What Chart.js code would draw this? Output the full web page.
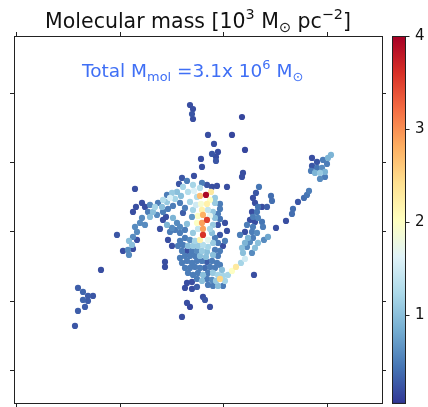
<!DOCTYPE html>
<html>
<head>
<meta charset="utf-8">
<script src="https://cdn.jsdelivr.net/npm/chart.js@4.4.1/dist/chart.umd.min.js"></script>
<style>
  body { margin: 0; background: #fff; }
  #map { display: block; }
</style>
</head>
<body>
<canvas id="map" width="428" height="407"></canvas>
<script>
// cells: [x offset, y offset, molecular mass in 10^3 Msun/pc^2]
const haloCells = [
    [-10, 120, 0.2], [-7, 116, 0.2], [-8, 111, 0.25], [-7, 106, 0.2], [42, 108, 0.15],
    [8, 90, 0.2], [32, 90, 0.15], [14, 81, 0.2], [45, 75, 0.15], [18, 73, 0.2],
    [12, 71, 0.25], [16, 68, 0.2], [16, 64, 0.25], [1, 66, 0.2], [2, 58, 0.2],
    [43, 52, 0.2], [42, 48, 0.2], [-6, 49, 0.2], [-18, 47, 0.25], [-65, 36, 0.2],
    [27, 38, 0.2], [-83, -10, 0.25], [-99, -45, 0.2], [-77, -26, 0.2], [-35, -37, 0.2],
    [-35, -42, 0.2], [54, -50, 0.2], [76, -3, 0.2], [-18, -92, 0.2], [-13, -78, 0.2],
    [-10, -82, 0.15], [10, -82, 0.2], [3, -72, 0.2], [5, -75, 0.25], [-15, -63, 0.2],
    [-8, -64, 0.2], [-3, -62, 0.3], [-40, -4, 0.2]
];
const westCluster = [
    [-122, -63, 0.3], [-117, -67, 0.35], [-112, -71, 0.3], [-107, -71, 0.25], [-117, -75, 0.35],
    [-112, -76, 0.3], [-115, -82, 0.3], [-122, -86, 0.3], [-125, -101, 0.25]
];
const eastClump = [
    [112, 67, 0.2], [117, 63, 0.25], [123, 65, 0.5], [128, 67, 0.9], [131, 70, 0.9],
    [112, 59, 0.25], [117, 57, 0.45], [122, 57, 0.6], [127, 61, 0.5], [111, 54, 0.5],
    [115, 52, 0.9], [120, 52, 1.1], [125, 53, 0.9], [120, 46, 0.6], [125, 48, 0.5]
];
const outerArm = [
    [86, 4, 0.2], [92, 11, 0.4], [93, 16, 0.4], [98, 23, 0.25], [104, 27, 0.4],
    [107, 30, 0.45], [109, 34, 0.5]
];
const innerArc = [
    [59, 38, 0.45], [56, 32, 0.25], [71, 29, 0.4], [72, 24, 0.4], [53, 27, 0.2],
    [55, 22, 0.2], [58, 18, 0.45], [62, 18, 0.2], [67, 18, 0.3], [52, 13, 0.2],
    [57, 13, 0.45], [53, 8, 0.5], [58, 7, 0.55], [62, 3, 0.45], [50, 5, 0.2],
    [47, 0, 0.5], [55, 3, 0.2], [53, -2, 0.5], [63, -2, 0.5], [52, -7, 0.5],
    [57, -8, 0.6], [48, -13, 0.9], [53, -13, 0.5], [45, -18, 0.9], [50, -17, 0.6],
    [58, -18, 1.0], [64, -15, 0.6], [68, -12, 0.8], [42, -23, 1.0], [47, -22, 0.6],
    [55, -23, 1.0], [43, -28, 1.0], [52, -28, 0.6], [40, -10, 0.5], [45, -7, 0.2]
];
const southArm = [
    [32, -46, 2.0], [36, -42, 2.3], [41, -38, 1.2], [45, -34, 1.5], [20, -54, 2.5],
    [25, -56, 1.2], [28, -50, 1.2], [23, -51, 1.2], [18, -50, 1.2], [13, -48, 1.1],
    [22, -45, 1.0]
];
const coreCells = [
    [-13, 44, 0.5], [-21, 41, 0.25], [-17, 38, 1.2], [-7, 40, 1.2], [0, 37, 1.3],
    [2, 42, 0.5], [7, 40, 0.25], [12, 38, 0.2], [17, 39, 0.2], [-12, 33, 1.3],
    [-6, 34, 1.6], [-19, 29, 1.0], [-3, 28, 1.3], [0, 29, 2.7], [6, 30, 3.95],
    [11, 33, 2.3], [15, 27, 1.1], [-10, 23, 1.2], [-20, 22, 0.5], [-15, 17, 0.5],
    [-7, 15, 1.2], [-4, 20, 1.5], [1, 21, 1.9], [7, 21, 2.2], [10, 25, 2.0],
    [15, 22, 1.1], [20, 21, 0.5], [20, 16, 0.5], [2, 15, 2.2], [8, 15, 1.4],
    [13, 13, 1.1], [18, 11, 0.5], [15, 7, 1.0], [20, 6, 0.45], [3, 10, 2.8],
    [7, 5, 3.5], [10, 9, 1.7], [-2, 9, 2.0], [-8, 8, 0.7], [-17, 12, 0.3],
    [-23, 2, 0.6], [-27, 7, 0.9], [-20, -2, 0.6], [-13, 1, 1.0], [-3, 2, 2.0],
    [2, 2, 2.9], [3, -4, 2.9], [-2, -4, 1.4], [-37, 5, 0.2], [-33, 0, 0.9],
    [-28, -3, 0.6], [13, 0, 1.1], [18, 0, 0.25], [10, -4, 1.2], [25, 2, 0.2],
    [12, -8, 1.0], [20, -10, 0.25], [27, -6, 0.2], [15, -13, 0.5], [25, -16, 0.5],
    [18, -18, 0.5], [23, -21, 0.2], [13, -18, 1.1], [8, -15, 1.7], [3, -10, 3.6],
    [0, -15, 2.2], [-7, -8, 1.1], [-10, -15, 0.6], [-5, -16, 1.2], [-15, -5, 0.5],
    [-20, -8, 0.5], [-25, -5, 0.5], [-30, -7, 0.5], [-15, -13, 0.5], [-20, -16, 0.5],
    [-32, -15, 0.2], [-28, -21, 0.2], [-22, -21, 0.5], [-17, -20, 0.5], [-12, -21, 1.0],
    [-7, -21, 1.1], [-2, -21, 1.1], [3, -20, 1.3], [8, -22, 1.2], [-18, -26, 0.5],
    [-13, -26, 0.2], [-8, -26, 0.5], [-3, -26, 0.6], [2, -26, 1.1], [7, -27, 1.0],
    [15, -25, 0.5], [20, -26, 0.5], [-20, -33, 0.5], [-15, -31, 0.5], [-10, -31, 0.5],
    [-5, -31, 0.5], [0, -31, 1.0], [6, -32, 1.0], [13, -30, 1.0], [18, -31, 0.5],
    [-18, -38, 0.5], [-13, -36, 0.5], [-8, -38, 0.5], [-3, -36, 0.5], [2, -36, 0.5],
    [7, -37, 0.3], [12, -36, 0.5], [17, -38, 0.5], [-15, -43, 0.5], [-10, -43, 0.5],
    [-5, -42, 0.5], [0, -43, 0.5], [5, -43, 0.4], [10, -42, 0.5], [15, -43, 0.5],
    [20, -40, 0.5], [-12, -48, 0.5], [-7, -50, 0.5], [-2, -48, 0.5], [3, -50, 1.0],
    [8, -48, 0.5], [-3, -54, 0.5], [2, -56, 1.0], [7, -54, 0.5], [12, -55, 0.6],
    [16, -56, 1.1], [-13, -58, 0.2], [-8, -57, 0.2], [8, -60, 0.5], [13, -61, 0.5],
    [18, -61, 1.0], [23, -61, 0.5]
];
const northArm = [
    [-58, 22, 0.2], [-55, 18, 0.2], [-64, 18, 0.2], [-67, 13, 0.2], [-52, 13, 0.5],
    [-47, 13, 1.0], [-42, 22, 0.5], [-38, 18, 1.0], [-33, 30, 0.5], [-28, 32, 1.1],
    [-23, 33, 1.0], [-30, 27, 1.6], [-25, 26, 1.2], [-33, 23, 1.1], [-37, 13, 0.5],
    [-32, 16, 0.5], [-27, 19, 0.5], [-43, 10, 0.6], [-50, 8, 1.0], [-58, 7, 0.6],
    [-60, 2, 0.6], [-65, -2, 0.6], [-63, -7, 0.6], [-67, -12, 0.6], [-71, -16, 1.0],
    [-63, -15, 0.2], [-68, -20, 1.0], [-72, -25, 0.6], [-67, -24, 0.2], [-71, -30, 0.6],
    [-50, 20, 0.6], [-55, 0, 0.6], [-34, 8, 0.2], [-45, 18, 1.2], [-37, 25, 1.3]
];

const xRange = [-186, 182];
const yRange = [-179, 189];
const xTicks = [-184, -80, 23, 127];
const yTicks = [131, 62, -7, -77, -146];
const massRange = [0.05, 4];
const massTicks = [1, 2, 3, 4];

// RdYlBu reversed
const palette = ['#313695', '#4575b4', '#74add1', '#abd9e9', '#e0f3f8', '#ffffbf',
    '#fee090', '#fdae61', '#f46d43', '#d73027', '#a50026'];

function hexRgb(h) {
    return [parseInt(h.slice(1, 3), 16), parseInt(h.slice(3, 5), 16), parseInt(h.slice(5, 7), 16)];
}
const paletteRgb = palette.map(hexRgb);

function cmap(v) {
    let t = (v - massRange[0]) / (massRange[1] - massRange[0]);
    t = Math.max(0, Math.min(1, t)) * (palette.length - 1);
    const i = Math.min(Math.floor(t), palette.length - 2);
    const f = t - i;
    const a = paletteRgb[i], b = paletteRgb[i + 1];
    const c = a.map((ch, k) => Math.round(ch + (b[k] - ch) * f));
    return 'rgb(' + c.join(',') + ')';
}

const cells = [].concat(haloCells, westCluster, eastClump, outerArm, innerArc, southArm, coreCells, northArm)
    .sort((a, b) => a[2] - b[2]);

const fontFamily = '"DejaVu Sans", sans-serif';

// draws text pieces with sub/superscripts
function drawRuns(c, runs, x, y, size, color, align) {
    c.save();
    c.fillStyle = color;
    c.textBaseline = 'alphabetic';
    c.textAlign = 'left';
    let total = 0;
    runs.forEach(r => {
        c.font = (size * (r.s || 1)) + 'px ' + fontFamily;
        total += c.measureText(r.t).width;
    });
    let cx = align === 'center' ? x - total / 2 : x;
    runs.forEach(r => {
        c.font = (size * (r.s || 1)) + 'px ' + fontFamily;
        c.fillText(r.t, cx, y + (r.dy || 0) * size);
        cx += c.measureText(r.t).width;
    });
    c.restore();
}

const titleRuns = [
    {t: 'Molecular mass [10'}, {t: '3', s: 0.7, dy: -0.42}, {t: ' M'},
    {t: '\u2299', s: 0.7, dy: 0.18}, {t: ' pc'}, {t: '\u22122', s: 0.7, dy: -0.42}, {t: ']'}
];
const noteRuns = [
    {t: 'Total M'}, {t: 'mol', s: 0.7, dy: 0.2}, {t: ' =3.1x 10'}, {t: '6', s: 0.7, dy: -0.42},
    {t: ' M'}, {t: '\u2299', s: 0.7, dy: 0.2}
];

const textPlugin = {
    id: 'texts',
    afterDraw(chart) {
        const c = chart.ctx;
        const a = chart.chartArea;
        drawRuns(c, titleRuns, (a.left + a.right) / 2, a.top - 8, 20.5, '#111', 'center');
        drawRuns(c, noteRuns, a.left + 68, a.top + 41, 18.5, '#3f6ff5', 'left');
    }
};

const colorbarPlugin = {
    id: 'colorbar',
    afterDraw(chart) {
        const c = chart.ctx;
        const s = chart.scales.cb;
        const x0 = chart.chartArea.right + 10;
        const w = 14;
        const g = c.createLinearGradient(0, s.bottom, 0, s.top);
        palette.forEach((col, i) => g.addColorStop(i / (palette.length - 1), col));
        c.save();
        c.fillStyle = g;
        c.fillRect(x0, s.top, w, s.bottom - s.top);
        c.strokeStyle = '#222';
        c.lineWidth = 1;
        c.strokeRect(x0 + 0.5, s.top + 0.5, w - 1, s.bottom - s.top - 1);
        c.fillStyle = '#111';
        c.font = '15px ' + fontFamily;
        c.textBaseline = 'middle';
        massTicks.forEach(v => {
            const y = Math.round(s.getPixelForValue(v)) + 0.5;
            c.beginPath();
            c.moveTo(x0 + w, y);
            c.lineTo(x0 + w + 3.5, y);
            c.stroke();
            c.fillText(String(v), x0 + w + 9, y);
        });
        c.restore();
    }
};

function frameAxis(position, range, ticks, size) {
    return {
        type: 'linear',
        position: position,
        min: range[0],
        max: range[1],
        ticks: {display: false},
        grid: {drawOnChartArea: false, drawTicks: true, tickLength: 4, color: '#222', lineWidth: 1},
        border: {display: true, color: '#222', width: 1},
        afterBuildTicks: axis => { axis.ticks = ticks.map(v => ({value: v})); },
        afterFit: axis => {
            if (axis.isHorizontal()) axis.height = size; else axis.width = size;
        }
    };
}

const ctx = document.getElementById('map').getContext('2d');
const chart = new Chart(ctx, {
    type: 'scatter',
    data: {
        datasets: [{
            data: cells.map(c => ({x: c[0], y: c[1], v: c[2]})),
            pointBackgroundColor: p => cmap(p.raw.v),
            pointBorderWidth: 0,
            pointRadius: 3.1,
            pointHoverRadius: 3.1
        }]
    },
    options: {
        responsive: false,
        animation: false,
        events: [],
        layout: {padding: {top: 32, right: 42, left: 0, bottom: 0}},
        plugins: {
            legend: {display: false},
            tooltip: {enabled: false},
            title: {display: false}
        },
        scales: {
            x: frameAxis('bottom', xRange, xTicks, 3),
            xTop: frameAxis('top', xRange, xTicks, 4),
            y: frameAxis('left', yRange, yTicks, 14),
            yRight: frameAxis('right', yRange, yTicks, 4),
            cb: {type: 'linear', position: 'right', display: false, min: massRange[0], max: massRange[1]}
        }
    },
    plugins: [textPlugin, colorbarPlugin]
});
</script>
</body>
</html>
